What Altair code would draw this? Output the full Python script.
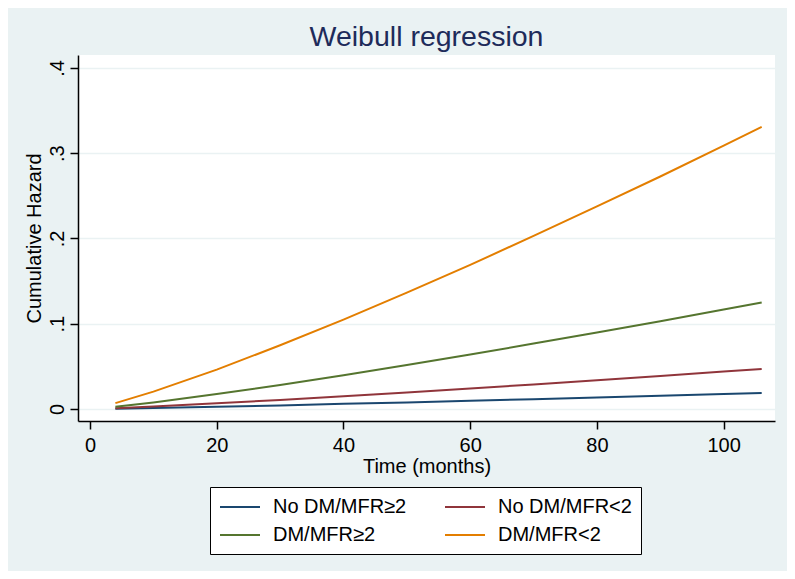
import altair as alt
import pandas as pd

time = [4, 10, 20, 30, 40, 50, 60, 70, 80, 90, 100, 106]
no_dm_ge2 = [0.0004, 0.0012, 0.0026, 0.0042, 0.0060, 0.0077, 0.0096, 0.0115, 0.0135, 0.0155, 0.0175, 0.0188]
no_dm_lt2 = [0.0010, 0.0029, 0.0066, 0.0106, 0.0149, 0.0194, 0.0240, 0.0288, 0.0337, 0.0387, 0.0439, 0.0470]
dm_ge2 = [0.0026, 0.0077, 0.0175, 0.0282, 0.0396, 0.0515, 0.0638, 0.0767, 0.0897, 0.1030, 0.1167, 0.1250]
dm_lt2 = [0.0069, 0.0204, 0.0462, 0.0747, 0.1048, 0.1364, 0.1690, 0.2030, 0.2376, 0.2727, 0.3090, 0.3310]

groups = ["No DM/MFR≥2", "No DM/MFR<2", "DM/MFR≥2", "DM/MFR<2"]
colors = ["#1a476f", "#90353b", "#55752f", "#e37e00"]
series = [no_dm_ge2, no_dm_lt2, dm_ge2, dm_lt2]

rows = []
for g, vals in zip(groups, series):
    for t, v in zip(time, vals):
        rows.append({"time": t, "hazard": v, "group": g})
df = pd.DataFrame(rows)

FONT = "Arial, Liberation Sans, sans-serif"
FS = 20

chart = alt.Chart(df).mark_line(strokeWidth=2).encode(
    x=alt.X("time:Q", scale=alt.Scale(domain=[-1.9, 108.1], nice=False, zero=False),
            axis=alt.Axis(values=[0, 20, 40, 60, 80, 100], title="Time (months)", grid=False,
                          tickSize=8, labelPadding=6, titlePadding=1, labelFontSize=FS, titleFontSize=FS,
                          domainColor="#000000", tickColor="#000000", domainWidth=1.5, tickWidth=1.5,
                          labelColor="#000000", titleColor="#000000", titleFontWeight="normal",
                          labelFont=FONT, titleFont=FONT)),
    y=alt.Y("hazard:Q", scale=alt.Scale(domain=[-0.0141, 0.4152], nice=False, zero=False),
            axis=alt.Axis(values=[0, 0.1, 0.2, 0.3, 0.4], title="Cumulative Hazard", grid=True,
                          gridColor="#eaf2f3", gridWidth=1.5,
                          labelExpr="datum.value == 0 ? '0' : slice(format(datum.value, '.1f'), 1)",
                          labelAngle=270, labelAlign="center", labelBaseline="bottom",
                          tickSize=8, labelPadding=3, titlePadding=3, labelFontSize=FS, titleFontSize=FS,
                          domainColor="#000000", tickColor="#000000", domainWidth=1.5, tickWidth=1.5,
                          labelColor="#000000", titleColor="#000000", titleFontWeight="normal",
                          labelFont=FONT, titleFont=FONT)),
    color=alt.Color("group:N", sort=groups,
                    scale=alt.Scale(domain=groups, range=colors),
                    legend=alt.Legend(title=None, orient="none", legendX=132, legendY=432,
                                      columns=2, direction="horizontal", columnPadding=34, rowPadding=7,
                                      symbolType="M-1,0H3", symbolSize=400, symbolStrokeWidth=2,
                                      labelFontSize=FS, labelFont=FONT, labelColor="#000000",
                                      labelOffset=32, fillColor="#ffffff", strokeColor="#000000",
                                      padding=9)),
).properties(
    width=697, height=366,
    title=alt.TitleParams("Weibull regression", fontSize=28.5, font=FONT, fontWeight="normal",
                          color="#1e2b5a", anchor="middle", offset=4),
    autosize=alt.AutoSizeParams(type="none"),
    padding={"left": 70, "top": 47, "right": 12, "bottom": 150},
).configure(background="#eaf2f3").configure_view(fill="#ffffff", stroke=None)

chart.save("out.html", embed_options={"renderer": "svg", "actions": False})
